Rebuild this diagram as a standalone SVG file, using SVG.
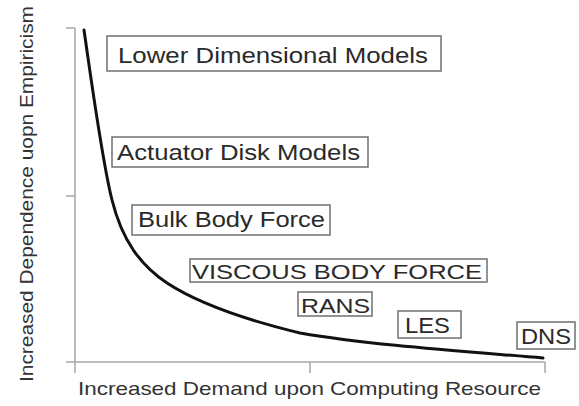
<svg xmlns="http://www.w3.org/2000/svg" width="579" height="406" viewBox="0 0 579 406">
<style>
.box{fill:#fff;stroke:#707070;stroke-width:1.5}
.lbl{font-family:"Liberation Sans",Arial,sans-serif;font-size:22px;fill:#2a2a2a}
.ax{stroke:#a8a8a8;stroke-width:1.5;fill:none}
.axl{font-family:"Liberation Sans",Arial,sans-serif;font-size:19px;fill:#333}
</style>
<rect width="579" height="406" fill="#fff"/>
<g id="axes">
<path class="ax" d="M75,28V373M66,28H75M66,196H75M66,362H545M310,362V373M545,362V373"/>
<text class="axl" x="78" y="395" textLength="463" lengthAdjust="spacingAndGlyphs">Increased Demand upon Computing Resource</text>
<text class="axl" transform="translate(33,382) rotate(-90)" x="0" y="0" textLength="376" lengthAdjust="spacingAndGlyphs">Increased Dependence uopn Empiricism</text>
</g>
<g id="connectors">
<path d="M84,30 C92,85 102,160 112,200 C122,240 140,265 167,283 C190,298 230,316 300,333 C370,345 460,351 543,358" fill="none" stroke="#111" stroke-width="3" stroke-linecap="round"/>
</g>
<g id="lower">
<rect class="box" x="107" y="36" width="334" height="35"/>
<text class="lbl" x="118" y="63" textLength="310" lengthAdjust="spacingAndGlyphs">Lower Dimensional Models</text>
</g>
<g id="actuator">
<rect class="box" x="112" y="137" width="256" height="30"/>
<text class="lbl" x="117" y="160" textLength="243" lengthAdjust="spacingAndGlyphs">Actuator Disk Models</text>
</g>
<g id="bulk">
<rect class="box" x="132" y="205" width="198" height="30"/>
<text class="lbl" x="138" y="227" textLength="187" lengthAdjust="spacingAndGlyphs">Bulk Body Force</text>
</g>
<g id="viscous">
<rect class="box" x="190" y="259" width="297" height="23"/>
<text class="lbl" x="192" y="279" textLength="290" lengthAdjust="spacingAndGlyphs" style="font-size:21px">VISCOUS BODY FORCE</text>
</g>
<g id="rans">
<rect class="box" x="298" y="292" width="74" height="24"/>
<text class="lbl" x="301" y="313" textLength="69" lengthAdjust="spacingAndGlyphs" style="font-size:21px">RANS</text>
</g>
<g id="les">
<rect class="box" x="398" y="311" width="63" height="27"/>
<text class="lbl" x="405" y="333" textLength="45" lengthAdjust="spacingAndGlyphs">LES</text>
</g>
<g id="dns">
<rect class="box" x="517" y="322" width="58" height="27"/>
<text class="lbl" x="521" y="344" textLength="50" lengthAdjust="spacingAndGlyphs">DNS</text>
</g>
</svg>
